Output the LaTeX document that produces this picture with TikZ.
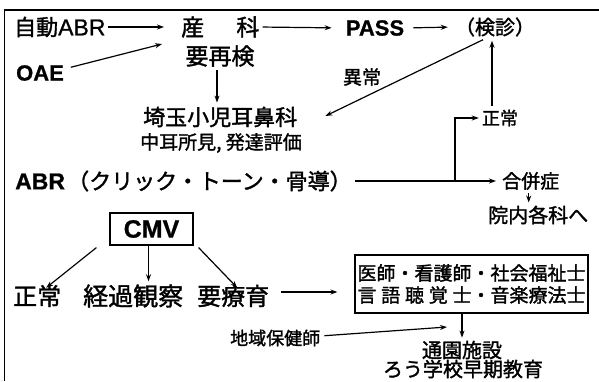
\documentclass[tikz,border=0pt]{standalone}
\usepackage{fontspec}
\setmainfont{Noto Sans CJK JP}[FakeBold=1.5]
\newfontfamily\lat{Liberation Sans}[FakeBold=0.8]
\usetikzlibrary{arrows.meta}
\begin{document}
\begin{tikzpicture}[x=1pt,y=-1pt,
  t/.style={inner sep=0pt},
  fs/.style={font=\fontsize{#1}{#1}\selectfont},
  arr/.style={-{Stealth[length=7pt,width=5pt]}, line width=1.2pt},
  frame/.style={line width=1.6pt}]
\useasboundingbox (0,0) rectangle (599,381);
\draw[frame] (4.5,381) -- (4.5,10) -- (599,10);
% nodes
\node[t,fs=22,anchor=west] (jidou) at (14,27) {自動{\lat\fontsize{23}{23}\selectfont ABR}};
\node[t,fs=23,anchor=west] (sanka) at (181,27) {産\hspace{1.4em}科};
\node[t,fs=22,anchor=center] (pass) at (375,28) {\lat\bfseries PASS};
\node[t,fs=20,anchor=center] (kenshin) at (495,27) {（検診）};
\node[t,fs=23,anchor=center] (saiken) at (220,56) {要再検};
\node[t,fs=22,anchor=center] (oae) at (40,73) {\lat\bfseries OAE};
\node[t,fs=22,anchor=west] (saitama) at (143,117) {埼玉小児耳鼻科};
\node[t,fs=19,anchor=west] (chuuji) at (140,143) {中耳所見, 発達評価};
\node[t,fs=19,anchor=center] (ijou) at (362,77) {異常};
\node[t,fs=18,anchor=center] (seijouR) at (500,118) {正常};
\node[t,fs=22,anchor=west] (abr) at (15,181) {{\lat\bfseries\fontsize{23}{23}\selectfont ABR}\hspace{0.1em}（クリック・トーン・骨導）};
\node[t,fs=19,anchor=west] (gappei) at (502,181) {合併症};
\node[t,fs=20,anchor=west] (innai) at (488,215) {院内各科へ};
\node[draw,line width=1.2pt,minimum width=83pt,minimum height=32pt,inner sep=0pt,fs=25] (cmv) at (151.5,229) {\lat\bfseries CMV};
\node[t,fs=24,anchor=west] (seijouL) at (13,296) {正常};
\node[t,fs=25,anchor=west] (keika) at (83,296) {経過観察};
\node[t,fs=24,anchor=west] (youryou) at (197,296) {要療育};
\node[draw,line width=1.2pt,minimum width=233pt,minimum height=58pt,inner sep=0pt,align=center,fs=19] (staff) at (471.5,284)
  {医師・看護師・社会福祉士\\[3pt]言\hspace{0.25em}語\hspace{0.25em}聴\hspace{0.25em}覚\hspace{0.25em}士・音楽療法士};
\node[t,fs=18,anchor=west] (chiiki) at (230,338) {地域保健師};
\node[t,fs=20,anchor=center] (tsuuen) at (462,350) {通園施設};
\node[t,fs=20,anchor=center] (rou) at (463,369) {ろう学校早期教育};
% connectors
\draw[arr,shorten <=2pt,shorten >=17pt] (jidou.east) -- (sanka.west);
\draw[arr,shorten <=3pt,shorten >=14pt] (sanka.east) -- (pass.west);
\draw[arr,shorten <=9pt,shorten >=7pt] (pass.east) -- (kenshin.west);
\coordinate (oaeEnd) at (162,44);
\draw[arr,shorten <=7pt] ([yshift=4pt]oae.east) -- (oaeEnd);
\draw[arr,shorten <=3pt,shorten >=4pt] ([xshift=-3pt]saiken.south) -- ([xshift=-3pt]saiken.south |- saitama.north);
\draw[arr] ([xshift=-12pt,yshift=-3pt]kenshin.south) -- ([xshift=28pt,yshift=1pt]saitama.east);
\draw[arr,shorten <=4pt,shorten >=4pt] ([xshift=-8pt]seijouR.north) -- ([xshift=-8pt]seijouR.north |- kenshin.south);
\draw[arr,shorten <=3pt,shorten >=6pt] (abr.east) -- (gappei.west);
\coordinate (junc) at (455,181);
\draw[arr,shorten >=3pt] (junc) |- (seijouR.west);
\draw[arr,line width=1pt,shorten <=3pt,shorten >=3pt] ([xshift=-2pt]gappei.south) -- ([xshift=-2pt]gappei.south |- innai.north);
\draw[arr] ([xshift=-13pt,yshift=-2pt]cmv.south west) -- ([xshift=9pt,yshift=-3pt]seijouL.north);
\draw[arr,shorten >=3pt] ([xshift=-3pt]cmv.south) -- ([xshift=-3pt]cmv.south |- keika.north);
\draw[arr] ([xshift=5pt,yshift=-2pt]cmv.south east) -- ([xshift=4pt,yshift=-3pt]youryou.north);
\draw[arr,shorten <=12pt,shorten >=17pt] ([yshift=4pt]youryou.east) -- ([yshift=4pt]youryou.east -| staff.west);
\draw[arr,shorten >=3pt] (tsuuen.north |- staff.south) -- (tsuuen.north);
\coordinate (chEnd) at (447,327);
\draw[arr,shorten <=4pt] ([yshift=2pt]chiiki.east) -- (chEnd);
\end{tikzpicture}
\end{document}
